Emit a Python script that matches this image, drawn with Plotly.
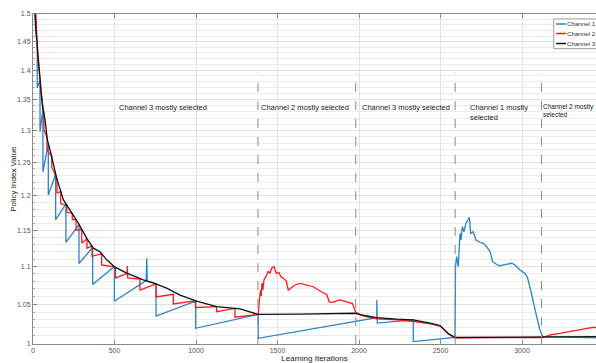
import plotly.graph_objects as go
import math

# ---------------- data ----------------
# Channel 3 (black) policy index
ch3_x = [5, 12, 23, 43, 57, 74, 88, 109, 129, 145, 186, 237, 278, 329, 370, 411, 452, 503,
         575, 677, 738, 820, 902, 1004, 1127, 1270, 1382, 1638, 1975, 2025, 2109, 2231, 2333,
         2436, 2497, 2548, 2589, 3000, 3454]
ch3_y = [1.60, 1.50, 1.453, 1.383, 1.341, 1.317, 1.285, 1.265, 1.243, 1.226, 1.194, 1.175, 1.160,
         1.139, 1.125, 1.120, 1.109, 1.099, 1.091, 1.082, 1.078, 1.071, 1.062, 1.054, 1.047, 1.044,
         1.037, 1.0375, 1.0385, 1.036, 1.033, 1.031, 1.030, 1.026, 1.023, 1.013, 1.008, 1.0085, 1.009]

# Channel 1 (blue) policy index
ch1_x = [5, 15, 15, 26, 26, 43, 43, 61, 61, 94, 94, 139, 139, 202, 202, 282, 282, 366, 366, 499, 499,
         694, 698, 701, 755, 755, 998, 998, 1382, 1382, 2109, 2109, 2112, 2333, 2333, 2589,
         2592, 2599, 2609, 2620, 2626, 2634, 2644, 2656, 2677, 2685, 2701, 2718, 2732, 2747, 2763,
         2783, 2804, 2820, 2834, 2861, 2885, 2937, 2957, 2988, 3018, 3033, 3053, 3074, 3090, 3110,
         3127, 3454]
ch1_y = [1.60, 1.49, 1.474, 1.443, 1.370, 1.383, 1.298, 1.335, 1.235, 1.280, 1.201, 1.232, 1.165,
         1.188, 1.133, 1.158, 1.104, 1.126, 1.076, 1.100, 1.054,
         1.081, 1.111, 1.080, 1.0765, 1.035, 1.054, 1.0195, 1.037, 1.007, 1.033, 1.0556, 1.026,
         1.030, 1.003, 1.008,
         1.0996, 1.1133, 1.0996, 1.1457, 1.1363, 1.1551, 1.1479, 1.1599, 1.1685, 1.1457, 1.1479,
         1.1363, 1.1340, 1.1325, 1.1317, 1.1269, 1.1201, 1.1064, 1.1043, 1.1006, 1.1020, 1.1043,
         1.1020, 1.0951, 1.0907, 1.0854, 1.0686, 1.0469, 1.0341, 1.0174, 1.009, 1.0075]

# Channel 2 (red) policy index
ch2_x = [5, 28, 28, 46, 46, 67, 67, 86, 86, 115, 115, 147, 147, 170, 170, 207, 207, 241, 241, 264, 264,
         299, 299, 331, 331, 362, 362, 421, 421, 506, 506, 577, 579, 581, 656, 656, 755, 755, 861, 861,
         997, 997, 1126, 1126, 1239, 1239, 1382,
         1389, 1396, 1400, 1405, 1410, 1417, 1429, 1444, 1454, 1464, 1479, 1493, 1509, 1521, 1536,
         1554, 1566, 1581, 1607, 1638, 1679, 1720, 1761, 1802, 1818, 1842, 1883, 1924, 1960, 1979,
         1996, 2030, 2105, 2110, 2230, 2330, 2340, 2440, 2500, 2550, 2589, 3127, 3180, 3233, 3300,
         3356, 3400, 3437, 3454]
ch2_y = [1.60, 1.4355, 1.427, 1.374, 1.370, 1.327, 1.301, 1.289, 1.269, 1.259, 1.243, 1.225, 1.204,
         1.206, 1.188, 1.186, 1.176, 1.174, 1.165, 1.165, 1.150, 1.151, 1.132, 1.138, 1.125, 1.128,
         1.114, 1.117, 1.102, 1.099, 1.0845, 1.0905, 1.1006, 1.0845, 1.083, 1.0686, 1.0765, 1.0595,
         1.063, 1.0504, 1.0545, 1.0459, 1.047, 1.0405, 1.0447, 1.0334, 1.037,
         1.0556, 1.0686, 1.0607, 1.0778, 1.0686, 1.0818, 1.0862, 1.0938, 1.0907, 1.0975, 1.0996,
         1.0907, 1.0917, 1.0862, 1.0840, 1.0805, 1.0686, 1.0708, 1.0752, 1.0774, 1.0752, 1.0729,
         1.0673, 1.0627, 1.0529, 1.0529, 1.0556, 1.0533, 1.0510, 1.0405,
         1.0375, 1.0350, 1.0325, 1.0315, 1.0300, 1.0290, 1.0280, 1.0250, 1.0220, 1.0120, 1.0075,
         1.0080, 1.0115, 1.0132, 1.0160, 1.0182, 1.0195, 1.0207, 1.0205]

series_names = ["Channel 1", "Channel 2", "Channel 3"]
series_colors = ["#2B84C9", "#FF1A1A", "#111111"]

x_ticks = [0, 500, 1000, 1500, 2000, 2500, 3000]
y_ticks = [1.0, 1.05, 1.1, 1.15, 1.2, 1.25, 1.3, 1.35, 1.4, 1.45, 1.5]
y_tick_labels = ["1", "1.05", "1.1", "1.15", "1.2", "1.25", "1.3", "1.35", "1.4", "1.45", "1.5"]
y_minor = [round(1 + i * 0.01, 2) for i in range(1, 50) if i % 5 != 0]

switch_points = [1380, 1980, 2590, 3120]
region_labels = ["Channel 3 mostly selected", "Channel 2 mostly selected",
                 "Channel 3 mostly selected", "Channel 1 mostly<br>selected",
                 "Channel 2 mostly<br>selected"]
region_label_x = [515, 1387, 2006, 2669, 3116]
region_label_size = [7.5, 7.5, 7.5, 7.5, 6.5]

# ---------------- figure ----------------
fig = go.Figure()
for xs, ys, name, col, w in [(ch1_x, ch1_y, series_names[0], series_colors[0], 1.3),
                             (ch2_x, ch2_y, series_names[1], series_colors[1], 1.3),
                             (ch3_x, ch3_y, series_names[2], series_colors[2], 1.3)]:
    fig.add_trace(go.Scatter(x=xs, y=ys, mode="lines", name=name,
                             line=dict(color=col, width=w), showlegend=False))

FONT = "Liberation Sans, Arial, sans-serif"

fig.update_layout(
    width=596, height=363,
    margin=dict(l=33, r=0, t=14, b=19),
    paper_bgcolor="white", plot_bgcolor="white",
    font=dict(family=FONT, size=7, color="#444"),
    showlegend=False,
)
fig.update_xaxes(
    range=[0, 3454], tickmode="array", tickvals=x_ticks,
    ticks="inside", ticklen=4, tickcolor="#888",
    showline=True, linecolor="#8a8a8a", linewidth=1, mirror="ticks",
    showgrid=True, gridcolor="#e2e2e2", zeroline=False,
    tickfont=dict(size=7, color="#555"),
    title=dict(text="Learning Iterations", font=dict(size=8, color="#222"), standoff=2),
    automargin=False,
)
fig.update_yaxes(
    type="log", range=[0, math.log10(1.5)],
    tickmode="array", tickvals=y_ticks, ticktext=y_tick_labels,
    ticks="inside", ticklen=4, tickcolor="#888",
    showline=True, linecolor="#8a8a8a", linewidth=1,
    showgrid=True, gridcolor="#e2e2e2", zeroline=False,
    tickfont=dict(size=7, color="#555"),
    minor=dict(tickmode="array", tickvals=y_minor, ticks="inside", ticklen=2,
               tickcolor="#aaa", showgrid=True, gridcolor="#ececec"),
    automargin=False,
)

# y-axis title placed as rotated text next to the tick labels
fig.add_annotation(x=-0.036, xref="paper", y=0.5, yref="paper", text="Policy Index Value",
                   textangle=-90, showarrow=False, xanchor="center", yanchor="middle",
                   font=dict(family=FONT, size=8, color="#222"))

for s in switch_points:
    fig.add_shape(type="line", x0=s, x1=s, xref="x", yref="paper", y0=0, y1=0.82,
                  line=dict(color="#8a8a8a", width=1, dash="dash"))

for t, xv, fs in zip(region_labels, region_label_x, region_label_size):
    fig.add_annotation(x=xv, xref="x", y=0.735, yref="paper", text=t, showarrow=False,
                       xanchor="left", yanchor="top", align="left",
                       font=dict(family=FONT, size=fs, color="#222"))

# legend box (partly cut by the right edge, as in the reference)
fig.add_shape(type="rect", xref="paper", yref="paper", x0=0.925, x1=1.08, y0=0.895, y1=0.985,
              line=dict(color="#9a9a9a", width=1), fillcolor="white", layer="above")
leg_y = [0.9697, 0.9409, 0.9106]
for name, col, yy in zip(series_names, series_colors, leg_y):
    fig.add_shape(type="line", xref="paper", yref="paper", x0=0.929, x1=0.9467, y0=yy, y1=yy,
                  line=dict(color=col, width=1.5), layer="above")
    fig.add_annotation(x=0.9485, xref="paper", y=yy, yref="paper", text=name, showarrow=False,
                       xanchor="left", yanchor="middle", xshift=-2,
                       font=dict(family=FONT, size=6.2, color="#333"))

fig.write_html("out.html")
